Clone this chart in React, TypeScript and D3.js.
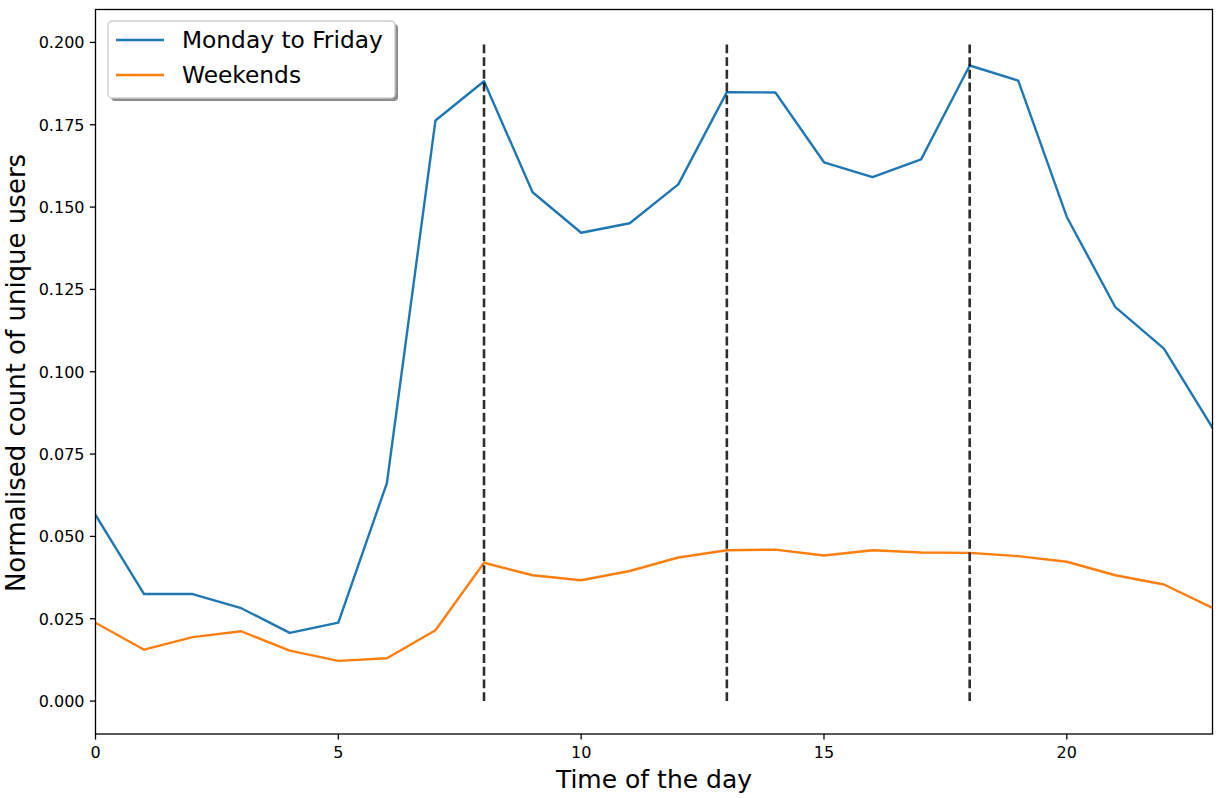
import React from "react";
import * as d3 from "d3";

const hours = d3.range(0, 24);
const weekdayValues = [
  0.0565, 0.0325, 0.0325, 0.0282, 0.0207, 0.0238, 0.0662, 0.1763, 0.1882, 0.1545,
  0.1422, 0.1451, 0.1569, 0.1849, 0.1848, 0.1636, 0.1591, 0.1645, 0.1930, 0.1884,
  0.1470, 0.1196, 0.1070, 0.0830,
];
const weekendValues = [
  0.0238, 0.0156, 0.0194, 0.0212, 0.0153, 0.0122, 0.0130, 0.0215, 0.0420, 0.0382,
  0.0367, 0.0395, 0.0436, 0.0458, 0.0460, 0.0442, 0.0458, 0.0451, 0.0450, 0.0440,
  0.0423, 0.0382, 0.0354, 0.0283,
];
const seriesNames = ["Monday to Friday", "Weekends"];
const seriesColors = ["#1f77b4", "#ff7f0e"];
const peakHours = [8, 13, 18];
const xTicks = [0, 5, 10, 15, 20];
const yTicks = [0, 0.025, 0.05, 0.075, 0.1, 0.125, 0.15, 0.175, 0.2];
const xLabel = "Time of the day";
const yLabel = "Normalised count of unique users";

const W = 1226;
const H = 798;
const left = 95.5;
const right = 1212.5;
const top = 9.5;
const bottom = 734;
const font = "'DejaVu Sans', sans-serif";

export default function App() {
  const x = d3.scaleLinear().domain([0, 23]).range([left, right]);
  const y = d3.scaleLinear().domain([-0.01, 0.21]).range([bottom, top]);
  const line = d3
    .line<number>()
    .x((_, i) => x(hours[i]))
    .y((d) => y(d));
  const series = [weekdayValues, weekendValues];
  const fmt = d3.format(".3f");

  return (
    <svg
      width={W}
      height={H}
      style={{ position: "absolute", left: 0, top: 0, display: "block", background: "#fff" }}
      fontFamily={font}
    >
      <defs>
        <clipPath id="plotclip">
          <rect x={left} y={top} width={right - left} height={bottom - top} />
        </clipPath>
      </defs>
      <rect x={0} y={0} width={W} height={H} fill="#fff" />
      <g clipPath="url(#plotclip)">
        {series.map((s, i) => (
          <path
            key={i}
            d={line(s) || ""}
            fill="none"
            stroke={seriesColors[i]}
            strokeWidth={2.4}
            strokeLinejoin="round"
            strokeLinecap="square"
          />
        ))}
        {peakHours.map((h) => (
          <line
            key={h}
            x1={x(h)}
            x2={x(h)}
            y1={y(0)}
            y2={y(0.2)}
            stroke="#000"
            strokeOpacity={0.82}
            strokeWidth={2.6}
            strokeDasharray="8.9 3.8"
          />
        ))}
      </g>
      <rect
        x={left}
        y={top}
        width={right - left}
        height={bottom - top}
        fill="none"
        stroke="#000"
        strokeWidth={1.3}
      />
      {xTicks.map((t) => (
        <g key={t}>
          <line x1={x(t)} x2={x(t)} y1={bottom} y2={bottom + 5.6} stroke="#000" strokeWidth={1.3} />
          <text x={x(t)} y={bottom + 24} textAnchor="middle" fontSize={16} fill="#000">
            {t}
          </text>
        </g>
      ))}
      {yTicks.map((t) => (
        <g key={t}>
          <line x1={left - 5.6} x2={left} y1={y(t)} y2={y(t)} stroke="#000" strokeWidth={1.3} />
          <text x={left - 11} y={y(t) + 5.8} textAnchor="end" fontSize={16} fill="#000">
            {fmt(t)}
          </text>
        </g>
      ))}
      <text x={(left + right) / 2} y={788} textAnchor="middle" fontSize={25} fill="#000">
        {xLabel}
      </text>
      <text
        transform={`translate(24.5, ${373}) rotate(-90)`}
        textAnchor="middle"
        fontSize={26}
        fill="#000"
      >
        {yLabel}
      </text>
      <g>
        <rect x={111} y={24} width={287} height={77} rx={4} fill="#000" fillOpacity={0.45} />
        <rect x={108} y={21} width={287} height={77} rx={4} fill="#fff" stroke="#cccccc" strokeWidth={1.3} />
        {seriesNames.map((n, i) => (
          <g key={n}>
            <line
              x1={116}
              x2={164}
              y1={40 + i * 35}
              y2={40 + i * 35}
              stroke={seriesColors[i]}
              strokeWidth={2.4}
            />
            <text x={182} y={48 + i * 35} fontSize={23.3} fill="#000">
              {n}
            </text>
          </g>
        ))}
      </g>
    </svg>
  );
}
